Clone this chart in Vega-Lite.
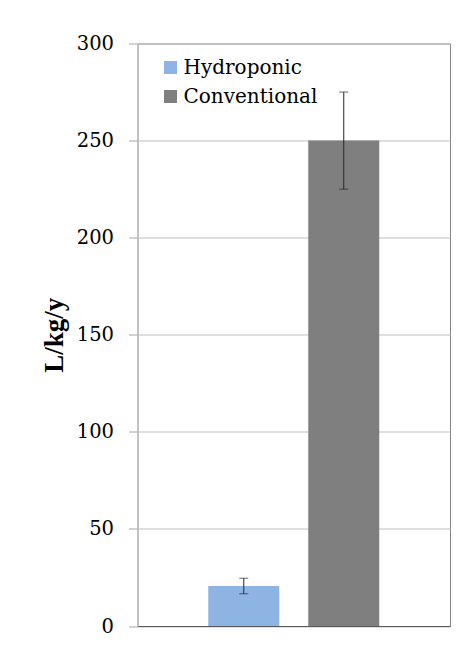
{
  "$schema": "https://vega.github.io/schema/vega-lite/v6.json",
  "autosize": {"type": "none"},
  "padding": {"left": 137.5, "top": 43.5, "right": 17, "bottom": 25},
  "width": 312.5,
  "height": 582.5,
  "background": "white",
  "config": {
    "view": {"stroke": "#868686", "strokeWidth": 1}
  },
  "data": {
    "values": [
      {"system": "Hydroponic", "water": 20.6, "lo": 16.6, "hi": 24.6},
      {"system": "Conventional", "water": 250, "lo": 225, "hi": 275}
    ]
  },
  "encoding": {
    "x": {
      "field": "system",
      "type": "nominal",
      "sort": ["Hydroponic", "Conventional"],
      "scale": {"paddingInner": 0.29, "paddingOuter": 0.7075},
      "axis": {"title": null, "labels": false, "ticks": false, "grid": false, "domainColor": "#595959", "domainWidth": 1.2}
    }
  },
  "layer": [
    {
      "mark": {"type": "bar"},
      "encoding": {
        "y": {
          "field": "water",
          "type": "quantitative",
          "title": "L/kg/y",
          "scale": {"domain": [0, 300], "nice": false},
          "axis": {
            "values": [0, 50, 100, 150, 200, 250, 300],
            "grid": true,
            "gridColor": "#bfbfbf",
            "gridWidth": 1,
            "domainColor": "#bfbfbf",
            "tickColor": "#a6a6a6",
            "tickSize": 9,
            "labelFont": "DejaVu Serif",
            "labelFontSize": 19.5,
            "labelColor": "#000000",
            "labelPadding": 15,
            "titleFont": "Liberation Serif",
            "titleFontSize": 27,
            "titleFontWeight": "bold",
            "titleColor": "#000000",
            "titleAngle": -90,
            "titleX": -75.5,
            "titleY": 291.25,
            "titleAlign": "center",
            "titleBaseline": "alphabetic"
          }
        },
        "color": {
          "field": "system",
          "type": "nominal",
          "scale": {"domain": ["Hydroponic", "Conventional"], "range": ["#8EB4E3", "#7F7F7F"]},
          "legend": {
            "orient": "none",
            "legendX": 23,
            "legendY": 14,
            "title": null,
            "padding": 0,
            "symbolType": "square",
            "symbolSize": 169,
            "symbolStrokeWidth": 0,
            "labelFont": "DejaVu Serif",
            "labelFontSize": 20,
            "labelColor": "#000000",
            "labelOffset": 3,
            "rowPadding": 9
          }
        }
      }
    },
    {
      "mark": {"type": "rule", "color": "#262626", "strokeWidth": 1},
      "encoding": {
        "y": {"field": "lo", "type": "quantitative", "title": "L/kg/y"},
        "y2": {"field": "hi"}
      }
    },
    {
      "mark": {"type": "tick", "color": "#262626", "size": 9, "thickness": 1},
      "encoding": {
        "y": {"field": "lo", "type": "quantitative", "title": "L/kg/y"}
      }
    },
    {
      "mark": {"type": "tick", "color": "#262626", "size": 9, "thickness": 1},
      "encoding": {
        "y": {"field": "hi", "type": "quantitative", "title": "L/kg/y"}
      }
    }
  ]
}
